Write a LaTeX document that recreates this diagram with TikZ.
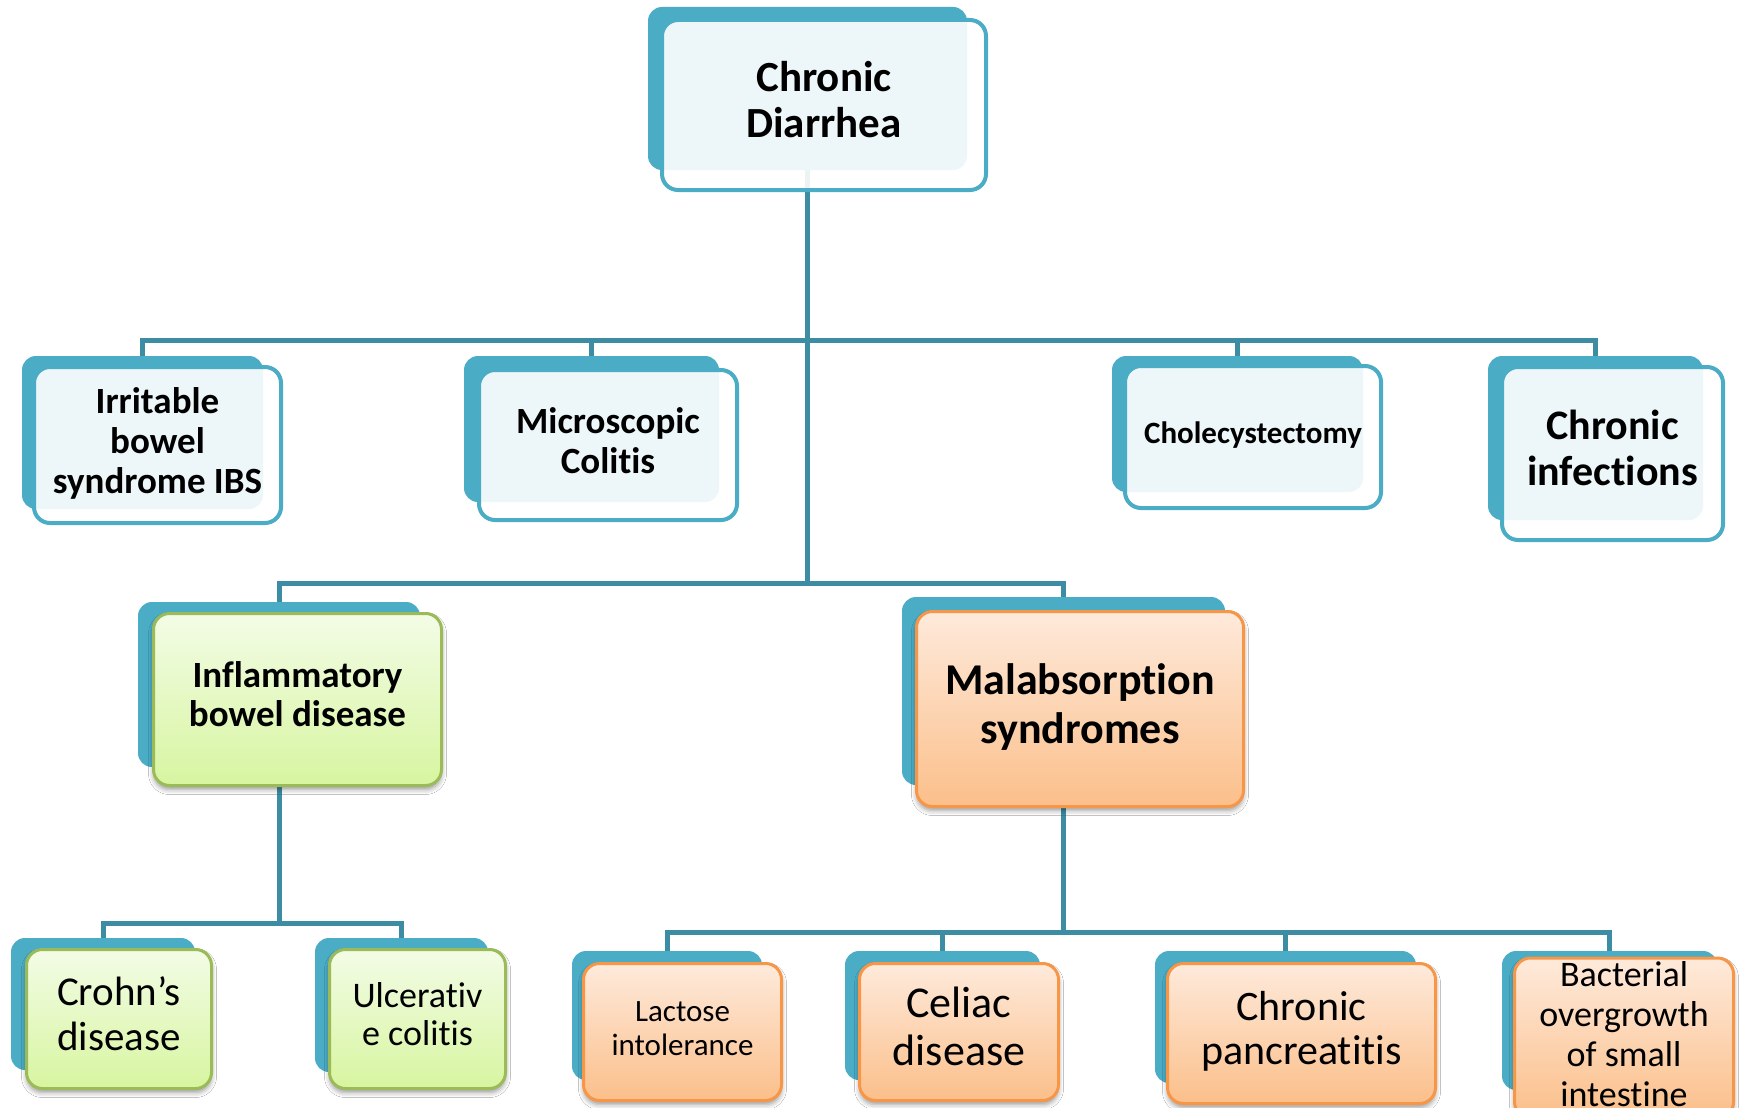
\documentclass[tikz,border=0pt]{standalone}
\usepackage{fontspec}
\setmainfont{Carlito}[Ligatures={NoCommon}]
\usepackage{graphicx}
\usetikzlibrary{shadows.blur}

\definecolor{tealback}{HTML}{4BACC6}
\definecolor{linkcol}{HTML}{3C8DA3}
\definecolor{grnedge}{HTML}{9BBB59}
\definecolor{grntop}{HTML}{F3FCE6}
\definecolor{grnbot}{HTML}{D7F5A0}
\definecolor{orgedge}{HTML}{F79646}
\definecolor{orgtop}{HTML}{FEEADB}
\definecolor{orgbot}{HTML}{FBBF8A}

% size, line skip, horizontal squeeze, lines
\newcommand\boxtext[4]{\fontsize{#1}{#2}\selectfont\scalebox{#3}[1]{\begin{tabular}{@{}c@{}}#4\end{tabular}}}

\tikzset{
  sz/.style 2 args={minimum width=#1pt, minimum height=#2pt},
  backbox/.style={fill=tealback, rounded corners=14pt, inner sep=0pt, draw=none},
  bluebox/.style={draw=tealback, line width=4pt, fill=white, fill opacity=0.9,
    text opacity=1, rounded corners=16pt, inner sep=0pt, font=\bfseries},
  softshadow/.style={blur shadow={shadow xshift=0pt, shadow yshift=-4pt,
    shadow blur radius=5pt, shadow opacity=40}},
  greenbox/.style={draw=grnedge, line width=3pt, top color=grntop, bottom color=grnbot,
    rounded corners=16pt, inner sep=0pt, softshadow},
  orangebox/.style={draw=orgedge, line width=3pt, top color=orgtop, bottom color=orgbot,
    rounded corners=16pt, inner sep=0pt, softshadow},
  link/.style={draw=linkcol, line width=5pt},
}

\begin{document}
\begin{tikzpicture}[x=1pt, y=-1pt]
\useasboundingbox[fill=white] (0,0) rectangle (1740,1108);

% back plates
\node[backbox, sz={319}{163}] (topB)   at (807.5,88.5) {};
\node[backbox, sz={241}{153}] (ibsB)   at (142.5,432.5) {};
\node[backbox, sz={255}{146}] (micB)   at (591.5,429) {};
\node[backbox, sz={251}{136}] (choB)   at (1237.5,424) {};
\node[backbox, sz={215}{164}] (infB)   at (1595.5,438) {};
\node[backbox, sz={282}{165}] (ibdB)   at (279,684.5) {};
\node[backbox, sz={323}{188}] (malB)   at (1063.5,691) {};
\node[backbox, sz={184}{132}] (croB)   at (103,1004) {};
\node[backbox, sz={173}{134}] (ucB)    at (401.5,1005) {};
\node[backbox, sz={190}{129}] (lacB)   at (667,1015.5) {};
\node[backbox, sz={195}{129}] (celB)   at (942.5,1015.5) {};
\node[backbox, sz={261}{132}] (panB)   at (1285.5,1017) {};
\node[backbox, sz={215}{139}] (bacB)   at (1609.5,1020.5) {};

% junction points of the tree
\coordinate (j1) at (807.5,340);
\coordinate (j2) at (807.5,583);
\coordinate (j3) at (279,923);
\coordinate (j4) at (1063.5,932);

% connectors
\draw[link] (topB.south) -- (j2);
\draw[link] (ibsB.north) |- (j1) -| (infB.north);
\draw[link] (micB.north) -- (micB.north |- j1);
\draw[link] (choB.north) -- (choB.north |- j1);
\draw[link] (ibdB.north) |- (j2) -| (malB.north);
\draw[link] (ibdB.south) -- (j3);
\draw[link] (croB.north) |- (j3) -| (ucB.north);
\draw[link] (malB.south) -- (j4);
\draw[link] (lacB.north) |- (j4) -| (bacB.north);
\draw[link] (celB.north) -- (celB.north |- j4);
\draw[link] (panB.north) -- (panB.north |- j4);

% front boxes
\node[bluebox, sz={324}{170}] (top) at (824,105) {\boxtext{43}{46}{1}{Chronic\\Diarrhea}};
\node[bluebox, sz={247}{156}] (ibs) at (157.5,445) {\boxtext{37}{40}{1}{Irritable\\bowel\\syndrome IBS}};
\node[bluebox, sz={258}{150}] (mic) at (608,445) {\boxtext{37}{40}{1}{Microscopic\\Colitis}};
\node[bluebox, sz={256}{142}] (cho) at (1253,437) {\boxtext{31}{34}{1}{Cholecystectomy}};
\node[bluebox, sz={221}{173}] (inf) at (1612.5,453.5) {\boxtext{42}{46}{1}{Chronic\\infections}};

\node[greenbox, sz={288}{172}] (ibd) at (297.5,699.5) {\bfseries\boxtext{37}{39}{1}{Inflammatory\\bowel disease}};
\node[orangebox, sz={327}{195}] (mal) at (1080,709) {\bfseries\boxtext{44}{49}{1}{Malabsorption\\syndromes}};

\node[greenbox, sz={185}{139}] (cro) at (119,1019) {\boxtext{41}{45}{1}{Crohn’s\\disease}};
\node[greenbox, sz={176}{139}] (uc)  at (417.5,1019) {\boxtext{36}{38}{1}{Ulcerativ\\e colitis}};

\node[orangebox, sz={198}{137}] (lac) at (682.5,1032) {\boxtext{31}{34}{1}{Lactose\\intolerance}};
\node[orangebox, sz={199}{137}] (cel) at (959,1032) {\boxtext{44}{48}{1}{Celiac\\disease}};
\node[orangebox, sz={268}{140}] (pan) at (1301.5,1033.5) {\boxtext{42}{44}{1}{Chronic\\pancreatitis}};
\node[orangebox, sz={219}{150}] (bac) at (1624,1038) {\boxtext{36}{40}{1}{Bacterial\\overgrowth\\of small\\intestine}};
\end{tikzpicture}
\end{document}
